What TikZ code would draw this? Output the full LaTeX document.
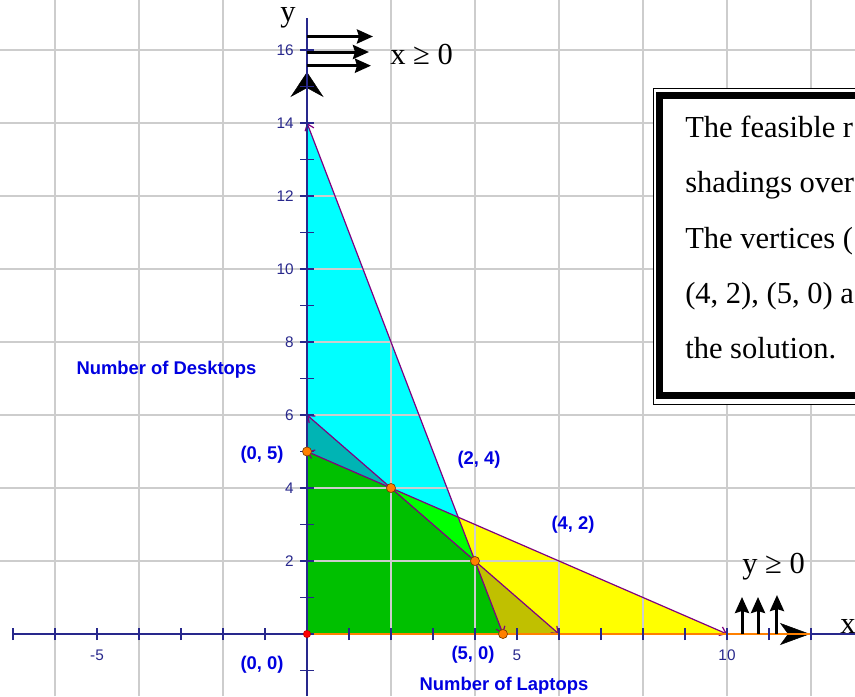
\documentclass[tikz,border=0pt]{standalone}
\usepackage{fontspec}
\setmainfont{Liberation Serif}
\newfontfamily\plotsans{Liberation Sans}
\usepackage{tikz}
\usetikzlibrary{arrows.meta, positioning}
\usepackage{xcolor}
\definecolor{gridgray}{RGB}{205,205,205}
\definecolor{axisnavy}{RGB}{40,40,140}
\definecolor{lblblue}{RGB}{0,0,225}
\definecolor{bndpurple}{RGB}{128,0,128}
\definecolor{vtxorange}{RGB}{255,128,0}
\definecolor{onecyan}{RGB}{0,255,255}
\definecolor{twoteal}{RGB}{0,180,180}
\definecolor{twolime}{RGB}{0,255,0}
\definecolor{allgreen}{RGB}{0,192,0}
\definecolor{twoolive}{RGB}{192,192,0}
\definecolor{oneyellow}{RGB}{255,255,0}

\begin{document}
\begin{tikzpicture}[
    x=31.5pt, y=27.375pt,
    gridline/.style={draw=gridgray, line width=1.1pt},
    axisline/.style={draw=axisnavy, line width=1.1pt},
    ticklbl/.style={font=\plotsans\fontsize{11.5}{13}\selectfont, text=axisnavy, inner sep=0pt},
    ptlbl/.style={font=\plotsans\bfseries\fontsize{13.8}{16}\selectfont, text=lblblue, inner sep=0pt},
    bound/.style={draw=bndpurple, line width=0.9pt, {Straight Barb[length=4.5pt,width=7pt]}-{Straight Barb[length=4.5pt,width=7pt]}},
    vtx/.style={circle, fill=vtxorange, draw=vtxorange!50!black, line width=0.5pt, minimum size=6.8pt, inner sep=0pt},
    ineq/.style={font=\fontsize{22.9}{27}\selectfont, inner sep=0pt},
    boxtext/.style={font=\fontsize{22.9}{27}\selectfont, inner sep=0pt, anchor=base west},
    shadearr/.style={line width=2.25pt, -{Stealth[length=12pt,width=10.5pt,inset=1.5pt]}}
]
\fill[white] (-7.3095,-1.6986) rectangle (13.0476,17.3699);
\useasboundingbox (-7.3095,-1.6986) rectangle (13.0476,17.3699);

% corner points of the constraints
\coordinate (O) at (0,0);
\coordinate (y14) at (0,14);
\coordinate (y6) at (0,6);
\coordinate (y5) at (0,5);
\coordinate (p24) at (2,4);
\coordinate (p42) at (4,2);
\coordinate (pcut) at (3.6,3.2);
\coordinate (x143) at (14/3,0);
\coordinate (x6) at (6,0);
\coordinate (x10) at (10,0);

% shaded half-planes
\fill[onecyan] (y14) -- (pcut) -- (p24) -- (y6) -- cycle;
\fill[twoteal] (y6) -- (p24) -- (y5) -- cycle;
\fill[twolime] (p24) -- (pcut) -- (p42) -- cycle;
\fill[oneyellow] (pcut) -- (x10) -- (x6) -- (p42) -- cycle;
\fill[twoolive] (p42) -- (x6) -- (x143) -- cycle;
\fill[allgreen] (O) -- (y5) -- (p24) -- (p42) -- (x143) -- cycle;

% grid
\foreach \gx in {-6,-4,-2,2,4,6,8,10,12}
    \draw[gridline] (\gx,-1.7) -- (\gx,17.37);
\foreach \gy in {2,4,...,16}
    \draw[gridline] (-7.31,\gy) -- (13.05,\gy);

% boundary lines
\draw[bound] (y14) -- (x143);
\draw[bound] (y6) -- (x6);
\draw[bound] (y5) -- (x10);

% axis heads
\coordinate (ytip) at (0,15.397);
\coordinate (yback) at (0,14.712);
\coordinate (xtip) at (11.976,0);
\coordinate (xback) at (11.262,0);
\draw[black, line width=0.4pt, -{Stealth[length=18.75pt,width=24.75pt,inset=6.75pt]}] (yback) -- (ytip);
\draw[black, line width=0.4pt, -{Stealth[length=22.5pt,width=16.5pt,inset=6pt]}] (xback) -- (xtip);

% axes
\coordinate (xleft) at (-7,0);
\coordinate (xright) at (13.05,0);
\coordinate (ybot) at (0,-1.7);
\coordinate (ytop) at (0,16.877);
\draw[axisline] (xleft) -- (xright);
\draw[axisline] (ybot) -- (ytop);
\draw[vtxorange, line width=0.8pt] (O) -- (xtip);
\foreach \i in {-7,...,12}
    \draw[axisline] (\i,0) ++(0,-4.5pt) -- ++(0,9pt);
\foreach \j in {-1,...,16}
    \draw[axisline] (0,\j) ++(-4.9pt,0) -- ++(9.8pt,0);

% tick labels
\foreach \ty in {2,4,...,16}
    \node[ticklbl, anchor=east] (ty\ty) at (-0.31,\ty) {\ty};
\node[ticklbl] (txm5) at (-5,-0.575) {-5};
\node[ticklbl] (tx5) at (5,-0.575) {5};
\node[ticklbl] (tx10) at (10,-0.575) {10};

% vertices
\node[vtx] (d05) at (y5) {};
\node[vtx] (d24) at (p24) {};
\node[vtx] (d42) at (p42) {};
\node[vtx] (d50) at (x143) {};
\node[circle, fill=red, draw=red!70!black, line width=0.4pt, minimum size=5.5pt, inner sep=0pt] (d00) at (O) {};

\node[ptlbl] (lbl05) at (-1.071,4.904) {(0, 5)};
\node[ptlbl] (lbl24) at (4.095,4.767) {(2, 4)};
\node[ptlbl] (lbl42) at (6.333,2.986) {(4, 2)};
\node[ptlbl] (lbl00) at (-1.071,-0.849) {(0, 0)};
\node[ptlbl] (lbl50) at (3.952,-0.575) {(5, 0)};
\node[ptlbl] (ytitle) at (-3.345,7.233) {Number of Desktops};
\node[ptlbl] (xtitle) at (4.690,-1.425) {Number of Laptops};

% x >= 0 and y >= 0 arrows
\coordinate (xa1) at (0,16.37);   \coordinate (xa1e) at (1.571,16.37);
\coordinate (xa2) at (0,15.945);  \coordinate (xa2e) at (1.476,15.945);
\coordinate (xa3) at (0,15.57);   \coordinate (xa3e) at (1.524,15.57);
\draw[shadearr] (xa1) -- (xa1e);
\draw[shadearr] (xa2) -- (xa2e);
\draw[shadearr] (xa3) -- (xa3e);
\node[ineq, anchor=base west] (xineq) at (1.976,15.589) {x ≥ 0};

\coordinate (ya1) at (10.357,0);  \coordinate (ya1e) at (10.357,1.014);
\coordinate (ya2) at (10.738,0);  \coordinate (ya2e) at (10.738,1.014);
\coordinate (ya3) at (11.19,0);   \coordinate (ya3e) at (11.19,1.068);
\draw[shadearr] (ya1) -- (ya1e);
\draw[shadearr] (ya2) -- (ya2e);
\draw[shadearr] (ya3) -- (ya3e);
\node[ineq, anchor=base west] (yineq) at (10.357,1.671) {y ≥ 0};

\node[ineq, anchor=base east] (ylab) at (-0.262,16.767) {y};
\node[ineq, anchor=base west] (xlab) at (12.69,0.027) {x};

% note box
\coordinate (boxnw) at (8.238,14.932);
\coordinate (boxse) at (14,6.301);
\coordinate (framenw) at (8.393,14.753);
\coordinate (framese) at (14,6.534);
\filldraw[fill=white, draw=black, line width=0.75pt] (boxnw) rectangle (boxse);
\draw[black, line width=5.25pt] (framenw) rectangle (framese);
\node[boxtext] (line1) at (9.0,13.589) {The feasible r};
\node[boxtext] (line2) at ([yshift=-41.25pt]line1.base west) {shadings over};
\node[boxtext] (line3) at ([yshift=-41.25pt]line2.base west) {The vertices (};
\node[boxtext] (line4) at ([yshift=-41.25pt]line3.base west) {(4, 2), (5, 0) a};
\node[boxtext] (line5) at ([yshift=-41.25pt]line4.base west) {the solution.};
\end{tikzpicture}
\end{document}
